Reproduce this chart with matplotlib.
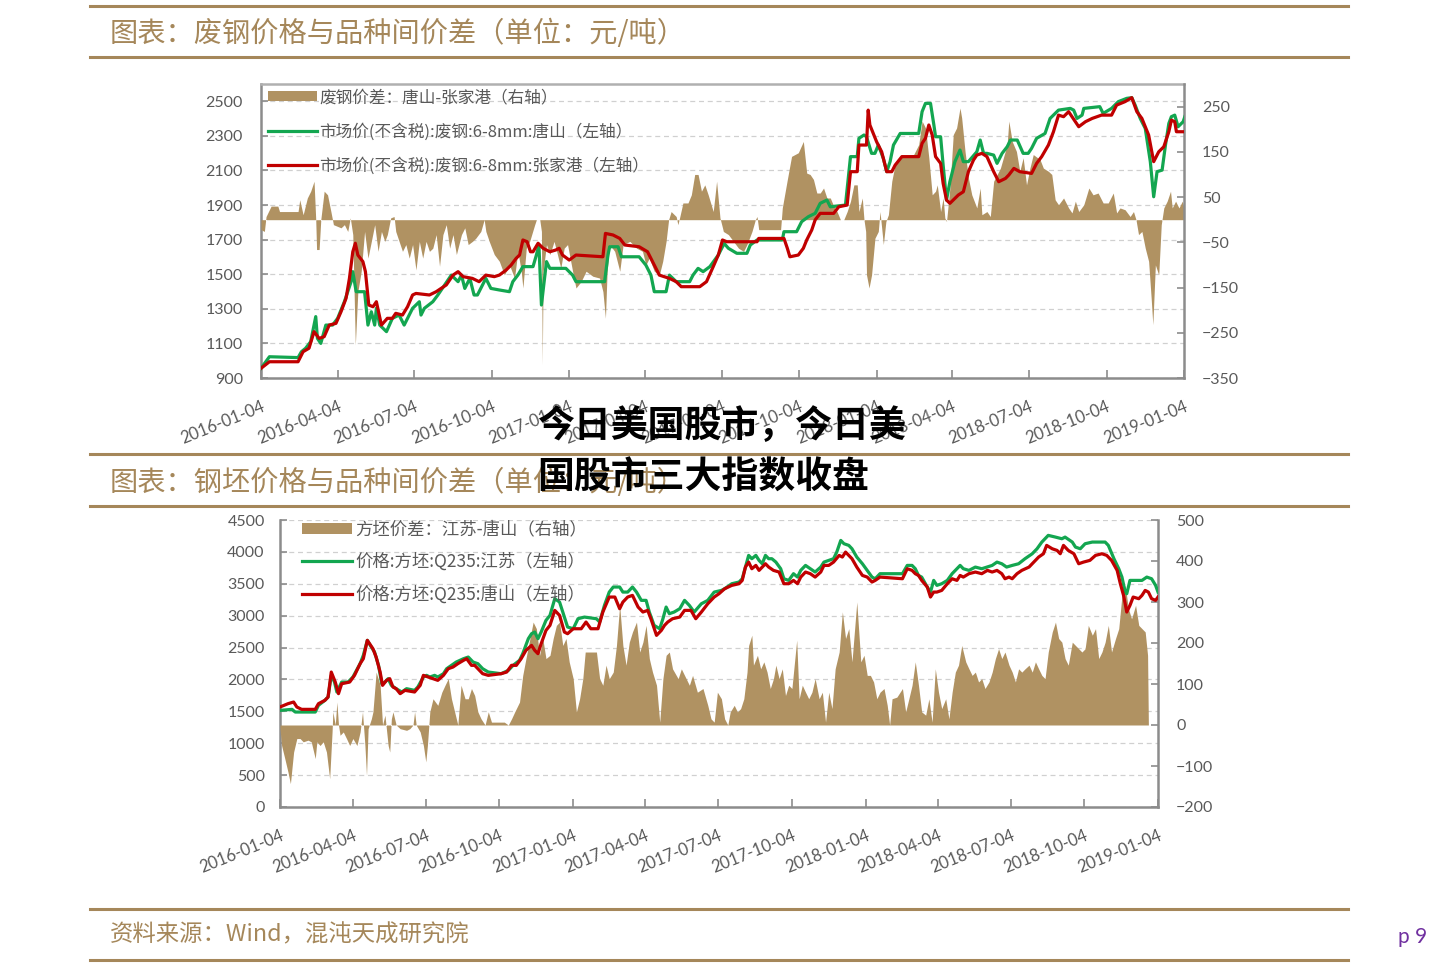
import numpy as np
import pandas as pd
import matplotlib
matplotlib.use('Agg')
import matplotlib.pyplot as plt

plt.rcParams['font.family'] = ['Noto Sans CJK SC', 'DejaVu Sans']

# x values are days counted from base_date
base_date = pd.Timestamp('2016-01-04')
tick_dates = ['2016-01-04', '2016-04-04', '2016-07-04', '2016-10-04', '2017-01-04',
              '2017-04-04', '2017-07-04', '2017-10-04', '2018-01-04', '2018-04-04',
              '2018-07-04', '2018-10-04', '2019-01-04']

# ---- chart 1: scrap steel (yuan/t) ----
scrap_labels = ['废钢价差：唐山-张家港（右轴）',
                '市场价(不含税):废钢:6-8mm:唐山（左轴）',
                '市场价(不含税):废钢:6-8mm:张家港（左轴）']

scrap_spread_days = [0, 4, 6, 12, 20, 22, 44, 46, 50, 51, 55, 59, 63, 65, 66, 69, 71, 75, 79, 83,
                     86, 95, 99, 103, 106, 109, 112, 115, 119, 123, 127, 131, 135, 139, 143, 147, 150, 154, 158, 160,
                     164, 168, 172, 176, 180, 184, 188, 192, 196, 200, 204, 208, 212, 216, 220, 224, 228, 232, 238, 242,
                     246, 251, 255, 261, 265, 267, 271, 277, 283, 289, 295, 301, 305, 309, 311, 315, 319, 325, 327, 331,
                     333, 334, 335, 339, 343, 348, 352, 356, 360, 364, 370, 374, 380, 386, 394, 402, 406, 409, 411, 414,
                     420, 426, 430, 438, 446, 453, 457, 461, 467, 473, 477, 481, 484, 487, 493, 495, 497, 501, 507, 511,
                     515, 519, 523, 527, 531, 537, 541, 545, 548, 549, 555, 561, 567, 573, 577, 583, 587, 589, 591, 617,
                     619, 625, 630, 638, 644, 648, 652, 656, 660, 664, 668, 672, 676, 680, 684, 688, 692, 696, 700, 704,
                     708, 710, 714, 716, 718, 719, 722, 725, 729, 733, 735, 737, 739, 742, 745, 749, 753, 759, 767, 775,
                     781, 785, 789, 793, 797, 801, 803, 807, 810, 812, 814, 818, 822, 826, 830, 832, 836, 840, 844, 850,
                     854, 856, 862, 866, 870, 878, 886, 888, 892, 897, 901, 905, 909, 913, 917, 925, 929, 935, 939, 943,
                     947, 953, 959, 963, 967, 971, 977, 983, 988, 994, 1000, 1006, 1012, 1016, 1020, 1026, 1032, 1036, 1039, 1042,
                     1046, 1050, 1054, 1057, 1059, 1062, 1066, 1069, 1072, 1076, 1080, 1082, 1086, 1090, 1094, 1097]
scrap_spread_vals = [-22, -26, 7, 30, 30, 18, 18, 44, 11, 18, 48, 63, 85, 0, -66, -66, 0, 63, 55, 18,
                     -11, -18, -11, -26, 4, -33, -277, -159, -114, -26, -85, -48, -11, -70, -26, -48, -33, 4, 7, -26,
                     -48, -70, -55, -85, -55, -111, -48, -85, -48, -70, -63, -33, -103, -33, -11, -63, -33, -77, -33, -18,
                     -55, -48, -41, -26, 0, -26, -48, -77, -92, -122, -100, -129, -70, -114, -151, -63, -48, -11, 0, 0,
                     -26, -321, -114, -55, -77, -48, -77, -107, -63, -55, -114, -151, -137, -114, -125, -129, -159, -218, -114, -55,
                     -70, -114, -55, -48, -63, -70, -100, -85, -114, -122, -92, -48, 0, 18, 7, -11, 4, 37, 37, 55,
                     100, 100, 63, 77, 55, 18, 85, 4, -18, -26, -33, -48, -63, -70, -55, -26, 0, 7, -22, -22,
                     26, 89, 140, 148, 173, 103, 100, 89, 59, 59, 70, 48, 48, 30, 18, 0, 0, 18, 41, 77,
                     77, 18, 48, 0, -26, -122, -151, -122, -41, -26, 18, -18, -55, -4, 11, 85, 122, 137, 140, 144,
                     166, 218, 203, 137, 55, 63, 77, 18, 48, 4, -4, 70, 188, 203, 247, 225, 151, 92, 55, 26,
                     70, 11, 18, 7, 85, 114, 166, 218, 173, 151, 107, 137, 77, 114, 144, 133, 114, 107, 100, 44,
                     33, 48, 26, 15, 41, 18, 33, 70, 55, 59, 37, 37, 59, 15, 26, 22, 7, 18, 0, -33,
                     -26, -63, -92, -173, -232, -100, -122, -11, 26, 41, 63, 26, 41, 26, 41, 18]

scrap_ts_days = [0, 10, 44, 48, 53, 59, 65, 67, 71, 77, 85, 91, 99, 103, 107, 109, 113, 123, 127, 131,
                 135, 137, 141, 149, 156, 164, 170, 176, 180, 188, 190, 194, 204, 210, 218, 226, 234, 238, 242, 248,
                 253, 257, 263, 267, 273, 283, 295, 299, 305, 311, 323, 327, 330, 333, 339, 343, 362, 370, 374, 408,
                 412, 414, 424, 428, 449, 457, 463, 467, 481, 485, 493, 509, 513, 519, 525, 533, 543, 550, 555, 565,
                 577, 581, 589, 619, 621, 636, 642, 650, 658, 664, 672, 676, 694, 700, 708, 710, 716, 719, 725, 729,
                 733, 739, 743, 747, 751, 759, 781, 785, 789, 795, 799, 801, 807, 810, 814, 818, 824, 830, 834, 840,
                 850, 854, 858, 862, 870, 874, 880, 886, 890, 898, 905, 911, 915, 921, 931, 937, 947, 961, 965, 969,
                 975, 977, 996, 1000, 1010, 1018, 1028, 1034, 1038, 1044, 1050, 1056, 1060, 1064, 1070, 1074, 1078, 1081, 1085, 1089,
                 1095, 1097]
scrap_ts_vals = [956, 1023, 1018, 1052, 1072, 1110, 1255, 1129, 1100, 1206, 1206, 1245, 1341, 1399, 1457, 1515, 1399, 1399, 1206, 1283,
                 1206, 1303, 1206, 1168, 1245, 1264, 1206, 1264, 1303, 1341, 1264, 1303, 1341, 1380, 1438, 1495, 1457, 1495, 1418, 1476,
                 1380, 1380, 1438, 1476, 1418, 1409, 1399, 1457, 1495, 1544, 1544, 1611, 1669, 1322, 1573, 1534, 1534, 1495, 1457, 1457,
                 1611, 1659, 1659, 1601, 1601, 1553, 1495, 1399, 1399, 1495, 1457, 1457, 1495, 1534, 1515, 1544, 1611, 1678, 1650, 1621,
                 1621, 1669, 1698, 1698, 1746, 1746, 1804, 1833, 1852, 1910, 1929, 1890, 1900, 2180, 2180, 2286, 2305, 2295, 2199, 2199,
                 2247, 2170, 2093, 2151, 2247, 2314, 2314, 2440, 2488, 2488, 2363, 2295, 2295, 2131, 1929, 2035, 2151, 2218, 2151, 2151,
                 2208, 2276, 2199, 2199, 2189, 2141, 2199, 2237, 2276, 2276, 2199, 2199, 2228, 2286, 2314, 2401, 2449, 2459, 2449, 2401,
                 2420, 2459, 2469, 2430, 2459, 2498, 2517, 2521, 2478, 2401, 2343, 2151, 1948, 2093, 2102, 2247, 2372, 2411, 2420, 2353,
                 2382, 2411]

scrap_zjg_days = [0, 10, 44, 50, 57, 63, 69, 75, 81, 89, 95, 101, 105, 109, 112, 115, 121, 124, 128, 133,
                  137, 143, 150, 156, 160, 168, 174, 180, 184, 200, 208, 220, 228, 234, 240, 251, 259, 267, 277, 283,
                  291, 297, 303, 307, 311, 316, 320, 323, 329, 335, 343, 350, 354, 358, 366, 374, 406, 409, 418, 426,
                  432, 449, 459, 467, 473, 485, 493, 499, 521, 529, 537, 543, 548, 553, 589, 591, 621, 625, 628, 638,
                  644, 648, 654, 658, 664, 680, 686, 696, 700, 708, 710, 719, 721, 723, 727, 731, 737, 743, 749, 753,
                  761, 781, 785, 789, 793, 797, 801, 807, 810, 814, 818, 822, 828, 834, 840, 846, 850, 856, 862, 870,
                  876, 884, 888, 894, 901, 915, 921, 927, 935, 941, 947, 953, 959, 963, 971, 979, 987, 998, 1010, 1016,
                  1026, 1034, 1040, 1046, 1054, 1060, 1066, 1072, 1078, 1081, 1085, 1087, 1097]
scrap_zjg_vals = [956, 994, 994, 1052, 1072, 1168, 1129, 1139, 1206, 1216, 1283, 1361, 1476, 1630, 1679, 1611, 1573, 1515, 1322, 1312,
                  1341, 1206, 1245, 1245, 1274, 1264, 1312, 1380, 1389, 1380, 1399, 1438, 1495, 1515, 1486, 1476, 1457, 1495, 1486, 1495,
                  1524, 1553, 1592, 1611, 1698, 1688, 1630, 1630, 1679, 1650, 1630, 1640, 1650, 1611, 1582, 1611, 1601, 1736, 1727, 1707,
                  1669, 1659, 1630, 1553, 1495, 1476, 1457, 1428, 1428, 1457, 1544, 1611, 1698, 1688, 1688, 1707, 1707, 1650, 1601, 1611,
                  1650, 1698, 1756, 1814, 1852, 1852, 1890, 1900, 2093, 2093, 2247, 2247, 2449, 2363, 2314, 2266, 2208, 2093, 2093, 2131,
                  2180, 2180, 2257, 2286, 2363, 2305, 2180, 2141, 2025, 1929, 1910, 1929, 1958, 1977, 2093, 2160, 2189, 2199, 2180, 2093,
                  2035, 2054, 2074, 2112, 2093, 2083, 2141, 2180, 2247, 2324, 2420, 2411, 2440, 2411, 2353, 2382, 2401, 2420, 2420, 2478,
                  2498, 2521, 2440, 2401, 2305, 2151, 2208, 2237, 2324, 2391, 2382, 2324, 2324]

# ---- chart 2: billet (yuan/t) ----
billet_labels = ['方坯价差：江苏-唐山（右轴）',
                 '价格:方坯:Q235:江苏（左轴）',
                 '价格:方坯:Q235:唐山（左轴）']

billet_spread_days = [0, 2, 6, 10, 13, 17, 21, 25, 29, 35, 39, 44, 46, 50, 54, 58, 62, 65, 66, 69,
                      71, 73, 75, 79, 83, 87, 91, 96, 100, 103, 106, 108, 110, 114, 116, 120, 125, 128, 131, 135,
                      137, 139, 141, 145, 150, 158, 162, 166, 168, 170, 175, 179, 182, 184, 187, 191, 197, 202, 206, 210,
                      214, 218, 222, 226, 231, 235, 239, 243, 247, 251, 256, 260, 264, 280, 285, 289, 293, 299, 303, 307,
                      312, 316, 320, 324, 328, 332, 337, 341, 345, 349, 353, 357, 361, 366, 370, 374, 378, 381, 395, 399,
                      403, 407, 411, 416, 420, 424, 428, 432, 436, 440, 445, 449, 453, 457, 461, 465, 470, 474, 478, 482,
                      486, 490, 497, 501, 505, 511, 515, 521, 528, 534, 538, 542, 546, 551, 555, 559, 562, 567, 571, 575,
                      579, 583, 585, 589, 591, 596, 600, 604, 608, 612, 616, 619, 623, 627, 631, 635, 639, 645, 648, 652,
                      656, 660, 664, 668, 673, 677, 681, 685, 689, 693, 698, 702, 706, 710, 714, 717, 720, 725, 729, 733,
                      737, 741, 745, 749, 754, 758, 761, 764, 770, 777, 781, 785, 789, 793, 797, 801, 806, 810, 814, 818,
                      822, 826, 831, 835, 839, 843, 847, 851, 856, 860, 864, 868, 872, 876, 880, 885, 889, 893, 897, 901,
                      905, 910, 914, 918, 922, 926, 930, 935, 939, 943, 947, 951, 955, 959, 964, 968, 972, 976, 980, 984,
                      989, 993, 997, 1001, 1005, 1009, 1014, 1018, 1022, 1026, 1030, 1034, 1038, 1043, 1047, 1051, 1055, 1059, 1063, 1068,
                      1072, 1076, 1080, 1083, 1084]
billet_spread_vals = [-9, -50, -82, -115, -143, -66, -33, -33, -41, -37, -41, -82, -41, -50, -41, -66, -131, -17, 32, 0,
                      56, 0, -25, -17, -33, -50, -33, -50, -17, 32, -50, -123, -9, 15, 32, 129, 97, 0, 24, -50,
                      -66, 15, 32, 0, -9, -13, -9, 0, 32, 0, -17, -50, -90, -50, 32, 64, 48, 80, 97, 113,
                      64, 32, 0, 97, 64, 64, 89, 72, 32, 15, 0, 32, 7, 7, 0, 15, 32, 56, 121, 162,
                      211, 251, 235, 170, 211, 162, 170, 211, 243, 251, 194, 211, 154, 113, 32, 64, 113, 178, 178, 113,
                      97, 146, 113, 129, 194, 292, 194, 146, 202, 227, 251, 178, 202, 243, 162, 129, 97, 7, 113, 170,
                      178, 137, 113, 137, 121, 97, 121, 80, 89, 48, 15, 7, 80, 64, 15, 0, 32, 48, 32, 40,
                      64, 129, 194, 219, 146, 170, 137, 154, 129, 89, 113, 146, 113, 137, 72, 97, 89, 207, 64, 97,
                      80, 64, 80, 113, 64, 80, 7, 80, 40, 137, 178, 276, 211, 235, 154, 227, 300, 154, 170, 121,
                      121, 105, 64, 80, 89, 48, 0, 64, 68, 89, 32, 64, 97, 154, 97, 32, 24, 64, 7, 137,
                      80, 40, 64, 15, 80, 129, 146, 194, 154, 137, 121, 129, 105, 113, 89, 105, 129, 162, 186, 162,
                      178, 146, 129, 105, 137, 129, 137, 146, 129, 154, 137, 121, 113, 178, 227, 251, 211, 202, 162, 146,
                      202, 194, 186, 178, 186, 243, 219, 235, 162, 178, 202, 243, 178, 211, 235, 316, 341, 284, 259, 292,
                      243, 235, 227, 170, 0]

billet_js_days = [0, 15, 19, 44, 48, 56, 60, 64, 68, 71, 77, 85, 91, 100, 104, 109, 114, 118, 123, 127,
                  131, 135, 139, 145, 152, 158, 168, 172, 179, 183, 187, 193, 197, 204, 208, 214, 220, 229, 235, 241,
                  247, 253, 260, 276, 285, 291, 299, 303, 310, 314, 318, 322, 326, 332, 337, 343, 349, 353, 359, 366,
                  372, 380, 395, 399, 405, 411, 416, 424, 428, 434, 440, 445, 451, 457, 461, 467, 474, 478, 482, 486,
                  492, 499, 505, 511, 517, 526, 534, 542, 551, 555, 564, 573, 577, 581, 585, 589, 594, 598, 602, 606,
                  610, 614, 619, 625, 629, 635, 641, 646, 650, 656, 662, 668, 675, 679, 685, 691, 695, 700, 704, 710,
                  714, 720, 727, 733, 739, 743, 749, 777, 783, 789, 793, 797, 801, 808, 812, 816, 820, 826, 833, 839,
                  845, 849, 853, 860, 868, 876, 889, 895, 901, 907, 914, 922, 930, 939, 945, 951, 959, 968, 976, 980,
                  989, 993, 999, 1005, 1014, 1030, 1034, 1041, 1047, 1051, 1055, 1057, 1061, 1076, 1082, 1088, 1093, 1096]
billet_js_vals = [1515, 1531, 1489, 1489, 1594, 1672, 1724, 2064, 1959, 1803, 1959, 1959, 2038, 2247, 2377, 2613, 2508, 2430, 2221, 1933,
                  1959, 2012, 1907, 1855, 1803, 1855, 1829, 1881, 2038, 2064, 2038, 2064, 2038, 2090, 2168, 2221, 2273, 2325, 2351, 2273,
                  2247, 2168, 2116, 2090, 2142, 2221, 2299, 2404, 2639, 2717, 2743, 2639, 2743, 2926, 3004, 3266, 3213, 3057, 2822, 2795,
                  2952, 2978, 2952, 2900, 3161, 3370, 3449, 3449, 3370, 3370, 3449, 3370, 3240, 3240, 3057, 2848, 2795, 2952, 3135, 3031,
                  3057, 3109, 3240, 3161, 3057, 3187, 3240, 3370, 3396, 3422, 3501, 3527, 3579, 3762, 3945, 3893, 3945, 3867, 3814, 3945,
                  3893, 3893, 3840, 3736, 3579, 3553, 3658, 3605, 3710, 3788, 3736, 3684, 3762, 3840, 3867, 3893, 3997, 4180, 4128, 4102,
                  4049, 3919, 3814, 3710, 3605, 3579, 3658, 3658, 3788, 3788, 3736, 3631, 3605, 3449, 3370, 3553, 3475, 3501, 3553, 3658,
                  3736, 3788, 3736, 3710, 3762, 3736, 3788, 3840, 3814, 3762, 3788, 3814, 3893, 3971, 4049, 4154, 4259, 4232, 4206, 4232,
                  4154, 4075, 4049, 4128, 4154, 4154, 4102, 3893, 3736, 3605, 3370, 3344, 3553, 3553, 3605, 3579, 3475, 3370]

billet_ts_days = [0, 10, 17, 21, 27, 44, 48, 56, 60, 64, 69, 73, 77, 87, 93, 100, 104, 109, 116, 120,
                  125, 128, 133, 137, 141, 145, 150, 156, 168, 175, 179, 185, 197, 204, 210, 216, 222, 229, 233, 239,
                  243, 247, 253, 260, 276, 283, 289, 295, 301, 307, 314, 318, 322, 326, 332, 337, 343, 349, 355, 359,
                  366, 376, 382, 388, 397, 403, 411, 418, 424, 428, 434, 440, 447, 453, 459, 463, 470, 476, 480, 484,
                  490, 499, 505, 513, 519, 526, 534, 542, 548, 555, 564, 573, 577, 581, 585, 589, 594, 598, 602, 606,
                  610, 616, 623, 629, 635, 641, 646, 650, 656, 662, 668, 675, 679, 685, 691, 698, 702, 706, 710, 714,
                  720, 727, 733, 739, 743, 749, 777, 783, 789, 793, 797, 801, 808, 812, 816, 820, 826, 833, 839, 845,
                  849, 853, 860, 868, 876, 883, 889, 895, 901, 905, 910, 914, 920, 926, 935, 941, 947, 953, 957, 964,
                  970, 974, 978, 984, 991, 997, 1003, 1011, 1018, 1026, 1032, 1038, 1045, 1049, 1053, 1057, 1061, 1065, 1072, 1076,
                  1080, 1084, 1088, 1093, 1096]
billet_ts_vals = [1568, 1620, 1646, 1568, 1531, 1531, 1620, 1672, 1724, 2116, 1959, 1777, 1933, 1959, 2064, 2247, 2325, 2613, 2482, 2351,
                  2116, 1907, 1986, 2012, 1881, 1855, 1777, 1829, 1803, 1907, 2064, 2038, 1986, 2064, 2168, 2195, 2247, 2299, 2325, 2221,
                  2221, 2168, 2090, 2064, 2090, 2116, 2221, 2221, 2325, 2456, 2534, 2456, 2404, 2560, 2769, 2848, 3083, 3004, 2743, 2717,
                  2795, 2795, 2900, 2795, 2795, 3057, 3292, 3292, 3109, 3213, 3292, 3318, 3135, 3057, 3083, 2952, 2691, 2769, 2848, 2900,
                  2952, 2978, 3083, 3083, 2952, 3057, 3187, 3292, 3344, 3422, 3475, 3501, 3553, 3762, 3840, 3736, 3788, 3710, 3762, 3814,
                  3762, 3710, 3684, 3501, 3501, 3553, 3501, 3605, 3684, 3658, 3605, 3684, 3788, 3788, 3840, 3945, 3919, 3997, 3945, 3893,
                  3762, 3631, 3605, 3527, 3553, 3605, 3579, 3736, 3710, 3658, 3631, 3553, 3449, 3292, 3370, 3370, 3396, 3501, 3579, 3553,
                  3631, 3605, 3658, 3684, 3658, 3710, 3684, 3710, 3658, 3579, 3605, 3579, 3658, 3710, 3762, 3840, 3919, 3971, 4102, 4049,
                  4023, 3971, 4102, 4023, 3971, 3814, 3840, 3867, 3945, 3971, 3945, 3867, 3710, 3501, 3318, 3057, 3161, 3292, 3266, 3318,
                  3396, 3370, 3266, 3240, 3292]

tan = '#b09262'
green = '#13a650'
red = '#c00000'
gold = '#a5875a'
spine_c = '#8c8c8c'
text_c = '#595959'


def to_dates(days):
    return base_date + pd.to_timedelta(np.array(days), unit='D')


fig = plt.figure(figsize=(14.4, 9.68), dpi=100)
W, H = 1440.0, 968.0


def hline(y, x0=90, x1=1348):
    fig.add_artist(plt.Line2D([x0 / W, x1 / W], [1 - y / H, 1 - y / H], color=gold, lw=2.2))


def panel(rect, spread_d, spread_v, a_d, a_v, b_d, b_v, labels,
          ylim_l, yticks_l, ylim_r, yticks_r, top_spine, leg_anchor, leg_size, leg_space, lpad, rpad):
    ax = fig.add_axes(rect)
    ax.set_xlim(base_date, pd.Timestamp(tick_dates[-1]))
    ax.set_ylim(*ylim_l)
    ax.set_yticks(yticks_l)
    ax.grid(axis='y', color='#d0d0d0', linestyle=(0, (4, 3)), linewidth=0.9)
    ax.set_xticks(pd.to_datetime(tick_dates))
    ax.set_xticklabels(tick_dates, rotation=22, ha='right', va='top', rotation_mode='anchor',
                       fontfamily='Lato', fontsize=12, color=text_c)
    ax.tick_params(axis='x', direction='in', length=6, width=1.2, color=spine_c, pad=15)
    ax.tick_params(axis='y', direction='in', length=5, width=1.2, color=spine_c, pad=lpad,
                   labelsize=11.5, labelcolor=text_c)
    for lab in ax.get_yticklabels():
        lab.set_fontfamily('Lato')
    for s in ['left', 'bottom', 'top']:
        ax.spines[s].set_color(spine_c)
        ax.spines[s].set_linewidth(1.8)
    ax.spines['top'].set_visible(top_spine)
    ax.spines['top'].set_color('#b0b0b0')
    ax.spines['right'].set_visible(False)

    axr = ax.twinx()
    fill = axr.fill_between(to_dates(spread_d), spread_v, 0, color=tan, linewidth=0)
    axr.set_ylim(*ylim_r)
    axr.set_yticks(yticks_r)
    axr.tick_params(axis='y', direction='in', length=5, width=1.2, color=spine_c, pad=rpad,
                    labelsize=11.5, labelcolor=text_c)
    for lab in axr.get_yticklabels():
        lab.set_fontfamily('Lato')
    for s in ['left', 'bottom', 'top']:
        axr.spines[s].set_visible(False)
    axr.spines['right'].set_color(spine_c)
    axr.spines['right'].set_linewidth(1.8)

    axl = ax.twinx()
    axl.set_ylim(*ylim_l)
    la, = axl.plot(to_dates(a_d), a_v, color=green, lw=2.3)
    lb, = axl.plot(to_dates(b_d), b_v, color=red, lw=2.3)
    axl.set_axis_off()
    leg = axl.legend([fill, la, lb], labels, loc='upper left', bbox_to_anchor=leg_anchor,
                     frameon=False, fontsize=leg_size, handlelength=2.9, handleheight=0.55,
                     handletextpad=0.15, labelspacing=leg_space, borderpad=0, borderaxespad=0)
    for t in leg.get_texts():
        t.set_color(text_c)
    return ax


# chart 1
panel([261 / W, 1 - 378 / H, 923 / W, 294 / H],
      scrap_spread_days, scrap_spread_vals, scrap_ts_days, scrap_ts_vals, scrap_zjg_days, scrap_zjg_vals,
      scrap_labels, (900, 2600), list(range(900, 2501, 200)), (-350, 300), list(range(-350, 251, 100)),
      True, (0.008, 0.982), 12, 1.0, 13, 13)

# chart 2
panel([280 / W, 1 - 807 / H, 878 / W, 287 / H],
      billet_spread_days, billet_spread_vals, billet_js_days, billet_js_vals, billet_ts_days, billet_ts_vals,
      billet_labels, (0, 4500), list(range(0, 4501, 500)), (-200, 500), list(range(-200, 501, 100)),
      False, (0.025, 0.998), 12.5, 0.82, 11, 13)

# section headers and footer
hline(6)
hline(57)
fig.text(110 / W, 1 - 34 / H, '图表：废钢价格与品种间价差（单位：元/吨）', color=gold, fontsize=20.3,
         va='center', ha='left')
hline(454)
hline(506)
fig.text(110 / W, 1 - 483 / H, '图表：钢坯价格与品种间价差（单位：元/吨）', color=gold, fontsize=20.3,
         va='center', ha='left')
hline(909)
hline(960)
fig.text(110 / W, 1 - 935 / H, '资料来源：Wind，混沌天成研究院', color=gold, fontsize=16.8,
         va='center', ha='left', style='italic')
fig.text(1398 / W, 1 - 937 / H, 'p 9', color='#7030a0', fontsize=15, va='center', ha='left',
         fontfamily='Lato')

# overlaid headline
fig.text(537 / W, 1 - 426 / H, '今日美国股市，今日美', color='black', fontsize=26.6,
         fontweight='black', va='center', ha='left', zorder=20)
fig.text(537 / W, 1 - 478 / H, '国股市三大指数收盘', color='black', fontsize=26.6,
         fontweight='black', va='center', ha='left', zorder=20)

fig.savefig('out.png', dpi=100)
